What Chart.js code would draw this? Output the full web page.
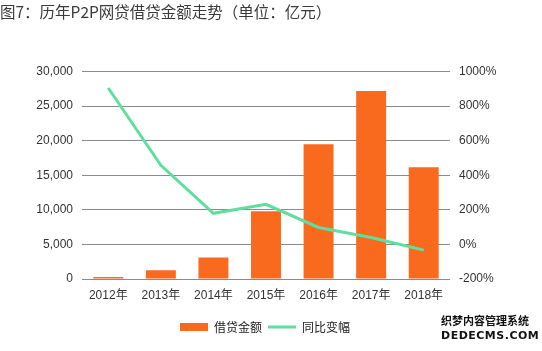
<!DOCTYPE html>
<html>
<head>
<meta charset="utf-8">
<script src="https://cdn.jsdelivr.net/npm/chart.js@4"></script>
<style>
  html, body { margin: 0; padding: 0; background: #fff; }
  #wrap { position: relative; width: 542px; height: 351px; }
  #mark { position: absolute; left: 441px; top: 313px; font-family: "Noto Sans CJK SC", sans-serif;
          font-weight: bold; font-size: 11px; line-height: 14px; color: #111; letter-spacing: 0px; }
</style>
</head>
<body>
<div id="wrap">
  <canvas id="myChart1" width="542" height="351"></canvas>
  <div id="mark">织梦内容管理系统<br><span style="font-family:'DejaVu Sans';letter-spacing:0.5px">DEDECMS.COM</span></div>
</div>
<script>
const years = ["2012年", "2013年", "2014年", "2015年", "2016年", "2017年", "2018年"];
const amount = [290, 1270, 3100, 9800, 19500, 27200, 16150];   // 亿元
const growth = [905, 458, 180, 232, 98, 40, -33];               // %
const titol1 = "图7：历年P2P网贷借贷金额走势（单位：亿元）";
const lblAmount = "借贷金额";
const lblGrowth = "同比变幅";

const fontNum = "'Liberation Sans', 'Noto Sans CJK SC', sans-serif";
const fontCjk = "'Noto Sans CJK SC', sans-serif";

const ctx = document.getElementById('myChart1').getContext('2d');
const myChart1 = new Chart(ctx, {
    data: {
        labels: years,
        datasets: [
            {
                type: 'line',
                label: lblGrowth,
                yAxisID: 'B',
                data: growth,
                borderColor: '#5fdf9f',
                backgroundColor: '#5fdf9f',
                borderWidth: 3,
                pointRadius: 0,
                pointStyle: 'line',
                tension: 0,
                order: 0
            },
            {
                type: 'bar',
                label: lblAmount,
                yAxisID: 'A',
                data: amount,
                backgroundColor: '#fa6a1e',
                pointStyle: 'rect',
                categoryPercentage: 1,
                barPercentage: 0.57,
                order: 1
            }
        ]
    },
    options: {
        responsive: false,
        animation: false,
        // padding right shifts the centred legend left; axis B width makes up for it
        layout: { padding: { left: 0, right: 12, top: 0, bottom: 8 } },
        plugins: {
            title: {
                display: true,
                text: titol1,
                align: 'start',
                color: '#3a3a3a',
                font: { family: fontCjk, size: 15.5, weight: 'normal' },
                padding: { top: 3, bottom: 50 }
            },
            legend: {
                position: 'bottom',
                reverse: true,
                labels: {
                    usePointStyle: true,
                    pointStyleWidth: 28,
                    boxHeight: 8,
                    padding: 6,
                    color: '#222',
                    font: { family: fontCjk, size: 12 }
                }
            },
            tooltip: { enabled: false }
        },
        scales: {
            x: {
                grid: { display: false, drawTicks: false },
                border: { display: false },
                ticks: { color: '#333', font: { family: fontNum, size: 12 }, padding: 9, maxRotation: 0 },
                afterFit: function (scale) { scale.height = 36; }
            },
            A: {
                type: 'linear',
                position: 'left',
                min: 0,
                max: 30000,
                ticks: {
                    stepSize: 5000,
                    color: '#333',
                    padding: 9,
                    font: { family: fontNum, size: 12 },
                    callback: v => v.toLocaleString('en-US')
                },
                grid: { color: '#8a8a8a', lineWidth: 1, drawTicks: false },
                border: { display: false },
                afterFit: function (scale) { scale.width = 82; }
            },
            B: {
                type: 'linear',
                position: 'right',
                min: -200,
                max: 1000,
                ticks: {
                    stepSize: 200,
                    color: '#333',
                    padding: 9,
                    font: { family: fontNum, size: 12 },
                    callback: v => v + '%'
                },
                grid: { display: false, drawTicks: false },
                border: { display: false },
                afterFit: function (scale) { scale.width = 80; }
            }
        }
    }
});
</script>
</body>
</html>
